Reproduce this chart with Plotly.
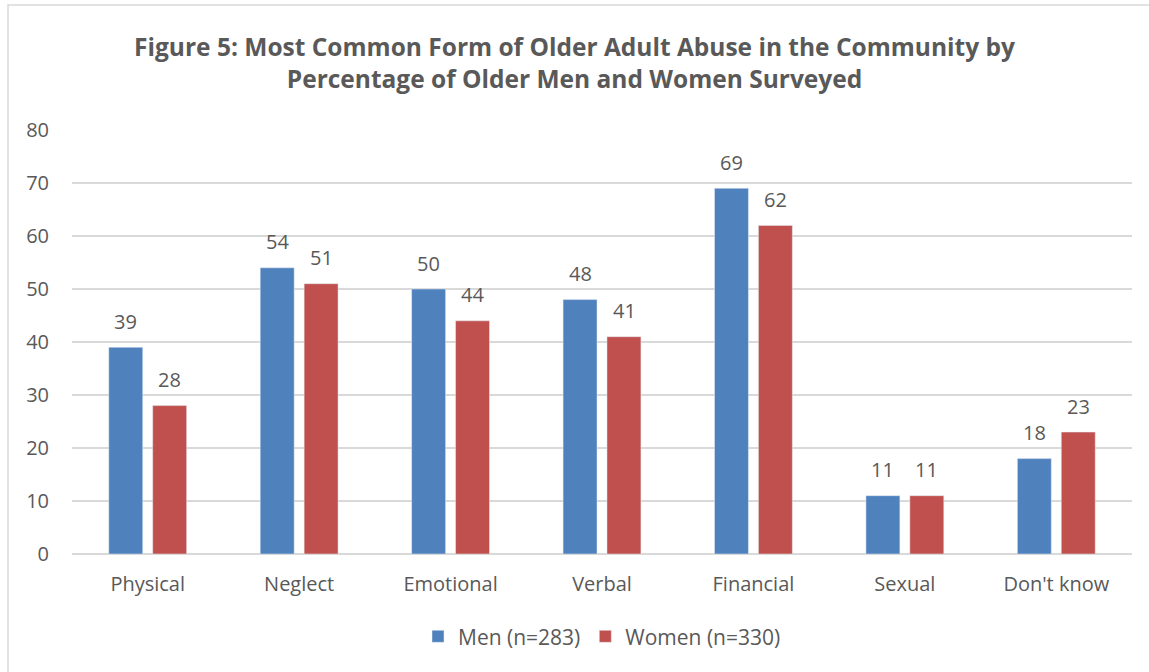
import plotly.graph_objects as go

categories = ["Physical", "Neglect", "Emotional", "Verbal", "Financial", "Sexual", "Don't know"]
men = [39, 54, 50, 48, 69, 11, 18]
women = [28, 51, 44, 41, 62, 11, 23]
y_ticks = [0, 10, 20, 30, 40, 50, 60, 70, 80]

FONT = "Open Sans"
GRAY = "#595959"
FS = 20

fig = go.Figure()
fig.add_trace(go.Bar(x=categories, y=men, name="Men (n=283)", marker_color="#4F81BD"))
fig.add_trace(go.Bar(x=categories, y=women, name="Women (n=330)", marker_color="#C0504D"))

annotations = []
for series, shift in ((men, -22), (women, 22)):
    for c, v in zip(categories, series):
        annotations.append(dict(x=c, y=v, text=str(v), showarrow=False, xshift=shift, yshift=26,
                                xanchor="center", yanchor="middle",
                                font=dict(family=FONT, size=FS, color=GRAY)))

fig.update_layout(
    width=1149, height=672,
    margin=dict(l=72, r=17, t=130, b=118),
    paper_bgcolor="white", plot_bgcolor="white",
    barmode="group", bargap=0.42, bargroupgap=0.227,
    title=dict(text="<b>Figure 5: Most Common Form of Older Adult Abuse in the Community by<br>Percentage of Older Men and Women Surveyed</b>",
               x=0.5, xanchor="center", y=0.917, yanchor="middle",
               font=dict(family=FONT, size=24.5, color=GRAY)),
    font=dict(family=FONT, color=GRAY, size=FS),
    xaxis=dict(showgrid=False, showline=False, ticks="", tickfont=dict(size=FS, color=GRAY),
               ticklabelstandoff=16),
    yaxis=dict(range=[0, 80], tickvals=y_ticks, showgrid=True, gridcolor="#D9D9D9", gridwidth=1.5,
               zeroline=True, zerolinecolor="#D9D9D9", zerolinewidth=1.5,
               tickfont=dict(size=FS, color=GRAY), ticks="", ticklabelstandoff=22),
    legend=dict(orientation="h", x=0.5, xanchor="center", y=-0.195, yanchor="middle",
                font=dict(size=21, color=GRAY), itemwidth=30, traceorder="normal"),
    showlegend=True,
    annotations=annotations,
    shapes=[dict(type="rect", xref="paper", yref="paper",
                 x0=(8 - 72) / 1060, x1=1.2, y0=-0.5, y1=(554 - 5) / 424,
                 line=dict(color="#D9D9D9", width=1.5), fillcolor="rgba(0,0,0,0)", layer="below")],
)

fig.write_html("out.html")
